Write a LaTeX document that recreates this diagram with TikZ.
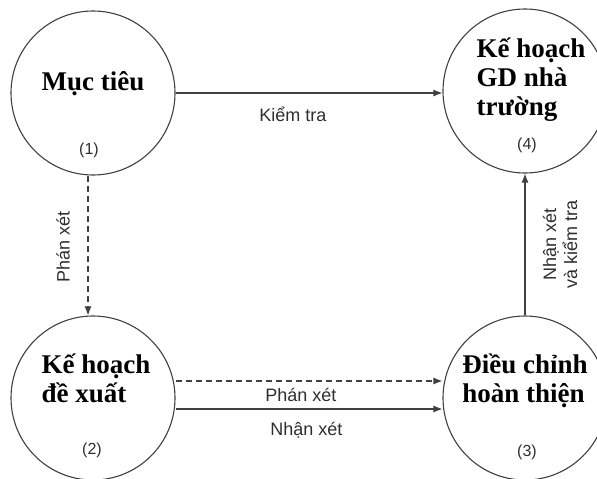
\documentclass[tikz,border=0pt]{standalone}
\usepackage{fontspec}
\setmainfont{Liberation Serif}
\setsansfont{Liberation Sans}
\usetikzlibrary{arrows.meta}
\definecolor{linegray}{HTML}{404040}
\definecolor{textgray}{HTML}{2E2E2E}

\begin{document}
\begin{tikzpicture}
[every node/.style={inner sep=0pt},
 stage/.style={circle, minimum size=164pt, draw=linegray, line width=1.1pt},
 title/.style={font=\fontsize{27}{29}\selectfont\bfseries, align=left},
 number/.style={font=\sffamily\fontsize{16}{19}\selectfont, text=textgray},
 remark/.style={font=\sffamily\fontsize{18}{21}\selectfont, text=textgray},
 flow/.style={line width=1.1pt, draw=linegray, -{Latex[length=9pt,width=7pt]}}]
\useasboundingbox (0pt,0pt) rectangle (597pt,-479pt);
% circles
\node (goal) [stage] at (93pt,-93pt) {};
\node (plan) [stage] at (525pt,-91pt) {};
\node (draft) [stage] at (93pt,-398pt) {};
\node (adjust) [stage] at (525pt,-398pt) {};
% titles
\node (goaltext) [title, anchor=base] at (93pt,-90pt) {Mục tiêu};
\node (plantext) [title] at (531pt,-80pt) {Kế hoạch\\GD nhà\\trường};
\node (drafttext) [title] at (96pt,-378pt) {Kế hoạch\\đề xuất};
\node (adjusttext) [title] at (525pt,-381pt) {Điều chỉnh\\hoàn thiện};
% numbers
\node (goalnum) [number] at (89pt,-150pt) {(1)};
\node (plannum) [number] at (527pt,-145pt) {(4)};
\node (draftnum) [number] at (92pt,-450pt) {(2)};
\node (adjustnum) [number] at (527pt,-452pt) {(3)};
% connectors
\draw [flow] (goal.east) -- node [remark, pos=0.44, yshift=-21pt] {Kiểm tra} (goal.east -| plan.west);
\draw [flow, dash pattern=on 6pt off 4pt] ([xshift=-5pt]goal.south) -- node [remark, pos=0.51, xshift=-25pt, rotate=90] {Phán xét} ([xshift=-5pt]draft.north);
\draw [flow, dash pattern=on 6pt off 4pt] ([yshift=17pt]draft.east) -- node [remark, pos=0.47, yshift=-14pt] {Phán xét} ([yshift=17pt]adjust.west);
\draw [flow] ([yshift=-11pt]draft.east) -- node [remark, pos=0.49, yshift=-21pt] {Nhận xét} ([yshift=-11pt]adjust.west);
\draw [flow] (adjust.north) -- node [remark, pos=0.5, xshift=35pt, rotate=90, align=center] {Nhận xét\\và kiểm tra} (plan.south);
\end{tikzpicture}
\end{document}
